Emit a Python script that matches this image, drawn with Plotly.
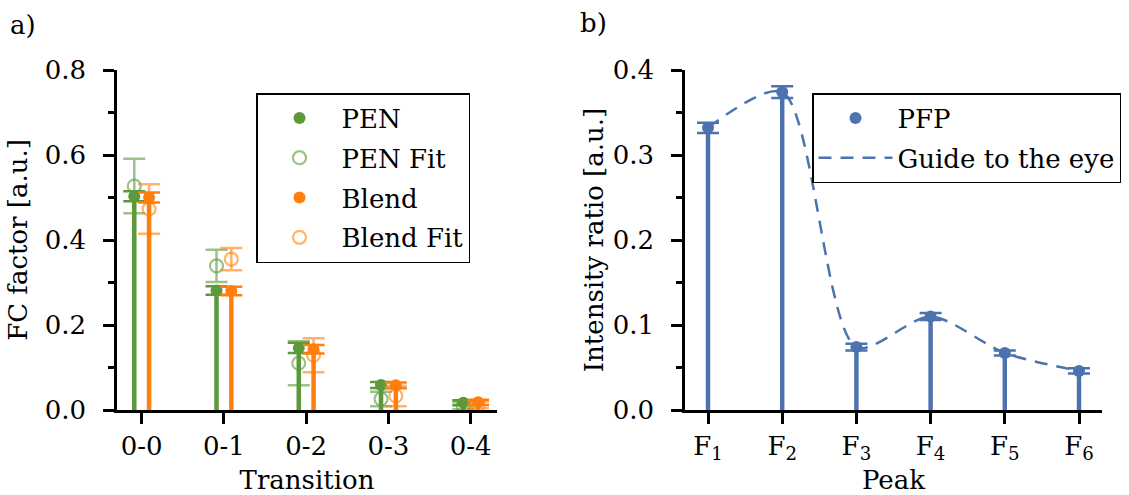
import numpy as np
import plotly.graph_objects as go

# ---------------- data ----------------
transitions = ["0-0", "0-1", "0-2", "0-3", "0-4"]
pen = [0.503, 0.281, 0.146, 0.059, 0.017]
pen_err = [0.012, 0.010, 0.012, 0.007, 0.006]
blend = [0.500, 0.280, 0.143, 0.058, 0.018]
blend_err = [0.012, 0.010, 0.010, 0.007, 0.006]
pen_fit = [0.527, 0.339, 0.110, 0.026, 0.010]
pen_fit_err = [0.064, 0.038, 0.052, 0.017, 0.008]
blend_fit = [0.473, 0.355, 0.129, 0.033, 0.012]
blend_fit_err = [0.058, 0.026, 0.040, 0.024, 0.008]

peaks = ["F<sub>1</sub>", "F<sub>2</sub>", "F<sub>3</sub>", "F<sub>4</sub>", "F<sub>5</sub>", "F<sub>6</sub>"]
pfp = [0.332, 0.374, 0.074, 0.110, 0.067, 0.046]
pfp_err = [0.006, 0.007, 0.004, 0.004, 0.003, 0.003]

# ---------------- style ----------------
FONT = "DejaVu Serif"
FS = 26
GREEN = "#5b9a3b"
GREEN_L = "rgba(91,154,59,0.6)"
ORANGE = "#ff7f0e"
ORANGE_L = "rgba(255,127,14,0.6)"
BLUE = "#4c72b0"
OFF = 0.09

xi = np.arange(len(transitions))
xp = np.arange(len(peaks))

fig = go.Figure()

def stems(x, y, color, xa, ya, w):
    fig.add_trace(go.Bar(x=x, y=y, width=w, marker=dict(color=color, line=dict(width=0)),
                         xaxis=xa, yaxis=ya, showlegend=False, hoverinfo="skip"))

def points(x, y, e, color, name, filled, xa, ya, legend, group):
    fig.add_trace(go.Scatter(
        x=x, y=y, mode="markers", name=name, legend=legend, legendgroup=group,
        error_y=dict(type="data", array=e, color=color, thickness=2.5, width=11),
        marker=dict(size=12 if filled else 13,
                    symbol="circle" if filled else "circle-open",
                    color=color, line=dict(width=0 if filled else 2.2, color=color)),
        xaxis=xa, yaxis=ya))

# panel a
stems(xi - OFF, pen, GREEN, "x", "y", 0.055)
stems(xi + OFF, blend, ORANGE, "x", "y", 0.055)
points(xi - OFF, pen, pen_err, GREEN, "PEN", True, "x", "y", "legend", "a1")
points(xi - OFF, pen_fit, pen_fit_err, GREEN_L, "PEN Fit", False, "x", "y", "legend", "a2")
points(xi + OFF, blend, blend_err, ORANGE, "Blend", True, "x", "y", "legend", "a3")
points(xi + OFF, blend_fit, blend_fit_err, ORANGE_L, "Blend Fit", False, "x", "y", "legend", "a4")

# panel b
stems(xp, pfp, BLUE, "x2", "y2", 0.06)
points(xp, pfp, pfp_err, BLUE, "PFP", True, "x2", "y2", "legend2", "b1")
fig.add_trace(go.Scatter(x=xp, y=pfp, mode="lines", name="Guide to the eye",
                         line=dict(color=BLUE, width=2.5, dash="13px,9px", shape="spline", smoothing=0.8),
                         xaxis="x2", yaxis="y2", legend="legend2", legendgroup="b2"))

W, H = 1129, 495
dxa = [117 / W, 497 / W]
dxb = [685 / W, 1102 / W]
dy = [(H - 410) / H, (H - 70) / H]

tickfont = dict(family=FONT, size=FS, color="black")
common_main = dict(showline=True, linewidth=2.5, linecolor="black", ticks="outside",
                   ticklen=11, tickwidth=2.5, tickcolor="black", showgrid=False,
                   zeroline=False, tickfont=tickfont, automargin=False)
common_mirror = dict(showline=True, linewidth=2.5, linecolor="black", ticks="inside",
                     ticklen=11, tickwidth=2.5, tickcolor="black", showgrid=False,
                     zeroline=False, showticklabels=False, automargin=False)

fig.update_layout(
    width=W, height=H, margin=dict(l=0, r=0, t=0, b=0, autoexpand=False),
    paper_bgcolor="white", plot_bgcolor="white",
    barmode="overlay", font=dict(family=FONT, size=FS, color="black"),
    xaxis=dict(domain=dxa, anchor="y", range=[-0.3, 4.32], tickmode="array",
               tickvals=list(xi), ticktext=transitions, ticklabelstandoff=0,
               title=dict(text="Transition", standoff=15, font=dict(family=FONT, size=FS)),
               **common_main),
    yaxis=dict(domain=dy, anchor="x", range=[0, 0.8], dtick=0.2, tickformat=".1f",
               ticklabelstandoff=12,
               minor=dict(dtick=0.1, ticks="outside", ticklen=6, tickwidth=2.5, tickcolor="black"),
               title=dict(text="FC factor [a.u.]", standoff=10, font=dict(family=FONT, size=FS)),
               **common_main),
    xaxis3=dict(overlaying="x", anchor="y", side="top", range=[-0.3, 4.32], tickmode="array",
                tickvals=list(xi), **common_mirror),
    yaxis3=dict(overlaying="y", anchor="x", side="right", range=[0, 0.8], dtick=0.2,
                minor=dict(dtick=0.1, ticks="inside", ticklen=6, tickwidth=2.5, tickcolor="black"),
                **common_mirror),
    xaxis2=dict(domain=dxb, anchor="y2", range=[-0.31, 5.31], tickmode="array",
                tickvals=list(xp), ticktext=peaks, ticklabelstandoff=0,
                title=dict(text="Peak", standoff=15, font=dict(family=FONT, size=FS)),
                **common_main),
    yaxis2=dict(domain=dy, anchor="x2", range=[0, 0.4], dtick=0.1, tickformat=".1f",
                ticklabelstandoff=12,
                minor=dict(dtick=0.05, ticks="outside", ticklen=6, tickwidth=2.5, tickcolor="black"),
                title=dict(text="Intensity ratio [a.u.]", standoff=2, font=dict(family=FONT, size=FS)),
                **common_main),
    xaxis4=dict(overlaying="x2", anchor="y2", side="top", range=[-0.31, 5.31], tickmode="array",
                tickvals=list(xp), **common_mirror),
    yaxis4=dict(overlaying="y2", anchor="x2", side="right", range=[0, 0.4], dtick=0.1,
                minor=dict(dtick=0.05, ticks="inside", ticklen=6, tickwidth=2.5, tickcolor="black"),
                **common_mirror),
    legend=dict(x=256 / W, y=1 - 93 / H, xanchor="left", yanchor="top",
                bgcolor="white", bordercolor="black", borderwidth=1.5,
                font=dict(family=FONT, size=FS), tracegroupgap=3, itemwidth=74,
                traceorder="grouped"),
    legend2=dict(x=812 / W, y=1 - 93 / H, xanchor="left", yanchor="top",
                 bgcolor="white", bordercolor="black", borderwidth=1.5,
                 font=dict(family=FONT, size=FS), tracegroupgap=3, itemwidth=74,
                 traceorder="grouped"),
    annotations=[
        dict(text="a)", x=8 / W, y=1 - 25 / H, xref="paper", yref="paper", xanchor="left",
             yanchor="middle", showarrow=False, font=dict(family=FONT, size=FS)),
        dict(text="b)", x=578 / W, y=1 - 23 / H, xref="paper", yref="paper", xanchor="left",
             yanchor="middle", showarrow=False, font=dict(family=FONT, size=FS)),
    ],
)

fig.write_html("out.html", config={"displayModeBar": False},
               post_script="document.body.style.margin='0';")
